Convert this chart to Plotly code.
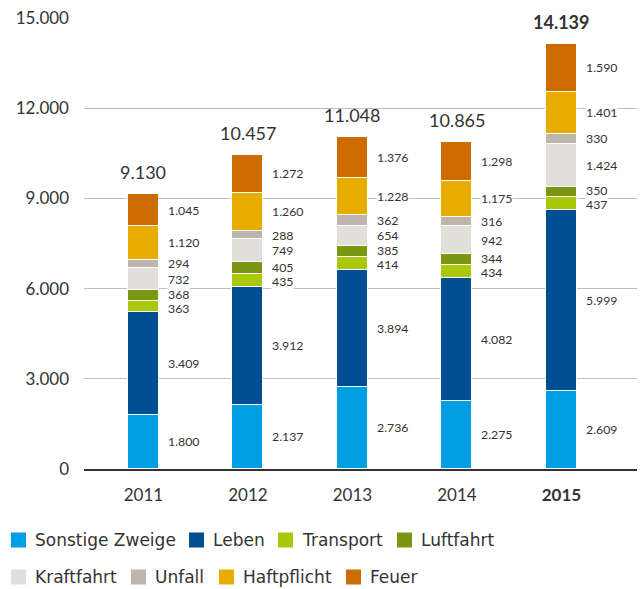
import plotly.graph_objects as go

# Beitragseinnahmen nach Versicherungszweigen (in Mio. €)
years = ["2011", "2012", "2013", "2014", "2015"]
totals = [9130, 10457, 11048, 10865, 14139]

sonstige_zweige = [1800, 2137, 2736, 2275, 2609]
leben = [3409, 3912, 3894, 4082, 5999]
transport = [363, 435, 414, 434, 437]
luftfahrt = [368, 405, 385, 344, 350]
kraftfahrt = [732, 749, 654, 942, 1424]
unfall = [294, 288, 362, 316, 330]
haftpflicht = [1120, 1260, 1228, 1175, 1401]
feuer = [1045, 1272, 1376, 1298, 1590]

series_names = ["Sonstige Zweige", "Leben", "Transport", "Luftfahrt",
                "Kraftfahrt", "Unfall", "Haftpflicht", "Feuer"]
series_values = [sonstige_zweige, leben, transport, luftfahrt,
                 kraftfahrt, unfall, haftpflicht, feuer]

y_ticks = [0, 3000, 6000, 9000, 12000, 15000]

# --- styling -------------------------------------------------------------
colors = ["#009fe3", "#004f93", "#aac80a", "#7b9613",
          "#e2dfdb", "#beb6ad", "#e9ad00", "#cc6c00"]
FONT = "Lato"
LEGEND_FONT = "DejaVu Sans"
TEXT = "#333333"
W, H = 640, 589
M_L, M_R, M_T, M_B = 84, 3, 18, 120
PLOT_W = W - M_L - M_R
PLOT_H = H - M_T - M_B
Y_MAX = 15000
X_RANGE = [-0.569, 4.723]
BAR_W = 0.297
PX_PER_UNIT = PLOT_H / Y_MAX
MIN_GAP_PX = 14.5


def de(n):
    return f"{n:,}".replace(",", ".")


fig = go.Figure()
xs = list(range(len(years)))

for name, vals, col in zip(series_names, series_values, colors):
    fig.add_trace(go.Bar(
        x=xs, y=vals, name=name, width=BAR_W,
        marker=dict(color=col, line=dict(color="white", width=1.2)),
        showlegend=False, hoverinfo="skip",
    ))

annotations = []

# value labels to the right of each segment, spread apart where crowded
for i in xs:
    base = 0
    centers = []
    for vals in series_values:
        centers.append((base + vals[i] / 2) * PX_PER_UNIT)
        base += vals[i]
    pos = centers[:]
    for _ in range(200):
        moved = False
        for k in range(len(pos) - 1):
            gap = pos[k + 1] - pos[k]
            if gap < MIN_GAP_PX - 1e-6:
                d = (MIN_GAP_PX - gap) / 2
                pos[k] -= d
                pos[k + 1] += d
                moved = True
        if not moved:
            break
    for vals, p in zip(series_values, pos):
        annotations.append(dict(
            x=i + BAR_W / 2, y=p / PX_PER_UNIT, xref="x", yref="y",
            text=de(vals[i]), showarrow=False, xanchor="left", yanchor="middle",
            xshift=8, bgcolor="white", borderpad=0,
            font=dict(family=FONT, size=12.3, color=TEXT),
        ))

# totals above the bars
for i, t in enumerate(totals):
    top = sum(v[i] for v in series_values)
    bold = i == len(years) - 1
    annotations.append(dict(
        x=i, y=top, xref="x", yref="y",
        text=f"<b>{de(t)}</b>" if bold else de(t),
        showarrow=False, xanchor="center", yanchor="middle", yshift=22,
        font=dict(family=FONT, size=18, color=TEXT),
    ))

# legend in two rows below the chart
legend_rows = [(540, [0, 1, 2, 3], [11, 189, 278, 397]),
               (577, [4, 5, 6, 7], [11, 131, 219, 346])]
SQ = 15
shapes = []


def px_to_paper_x(px):
    return (px - M_L) / PLOT_W


def px_to_paper_y(py):
    return (H - M_B - py) / PLOT_H


for row_y, idxs, sq_x in legend_rows:
    for k, sx in zip(idxs, sq_x):
        shapes.append(dict(
            type="rect", xref="paper", yref="paper",
            x0=px_to_paper_x(sx), x1=px_to_paper_x(sx + SQ),
            y0=px_to_paper_y(row_y - SQ / 2), y1=px_to_paper_y(row_y + SQ / 2),
            fillcolor=colors[k], line=dict(width=0),
        ))
        annotations.append(dict(
            x=px_to_paper_x(sx + SQ + 8), y=px_to_paper_y(row_y),
            xref="paper", yref="paper", text=series_names[k],
            showarrow=False, xanchor="left", yanchor="middle",
            font=dict(family=LEGEND_FONT, size=17, color=TEXT), borderpad=0,
        ))

tick_text = [f"<b>{y}</b>" if j == len(years) - 1 else y for j, y in enumerate(years)]

fig.update_layout(
    width=W, height=H,
    margin=dict(l=M_L, r=M_R, t=M_T, b=M_B),
    paper_bgcolor="white", plot_bgcolor="white",
    barmode="stack", bargap=0,
    font=dict(family=FONT, color=TEXT),
    annotations=annotations, shapes=shapes,
    xaxis=dict(
        range=X_RANGE, tickvals=xs, ticktext=tick_text,
        showgrid=False, zeroline=False, ticks="",
        showline=True, linecolor="#333333", linewidth=1.5,
        tickfont=dict(family=FONT, size=17, color=TEXT),
        ticklabelstandoff=10, fixedrange=True,
    ),
    yaxis=dict(
        range=[0, Y_MAX], tickvals=y_ticks, ticktext=[de(v) for v in y_ticks],
        showgrid=True, gridcolor="#c6beb5", gridwidth=1,
        zeroline=False, showline=False, ticks="",
        tickfont=dict(family=FONT, size=17, color=TEXT),
        ticklabelstandoff=14, fixedrange=True,
    ),
)

fig.write_html("out.html")
